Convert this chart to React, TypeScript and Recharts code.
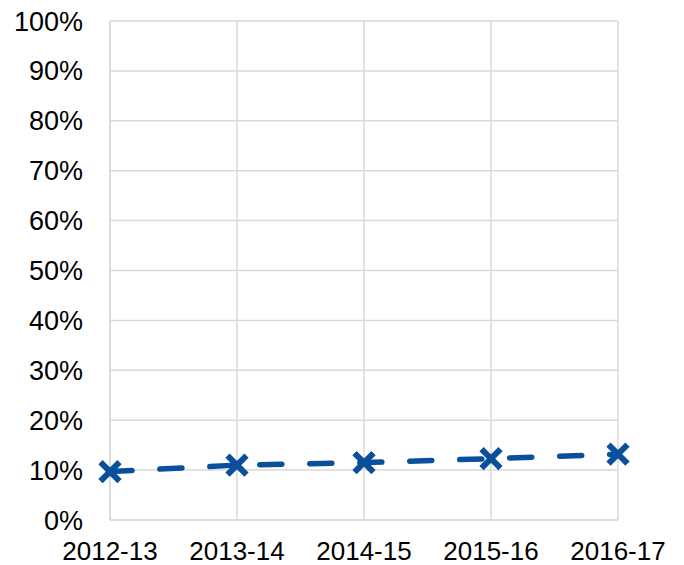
import { LineChart, Line, XAxis, YAxis, CartesianGrid } from 'recharts';

const years = ['2012-13', '2013-14', '2014-15', '2015-16', '2016-17'];
const shares = [9.7, 11.0, 11.5, 12.3, 13.2];
const yTicks = [0, 10, 20, 30, 40, 50, 60, 70, 80, 90, 100];

const BLUE = '#0a4f9b';
const GRID = '#d9d9d9';

const data = years.map((year, i) => ({ year, share: shares[i] }));

function CrossDot(props: any) {
  const { cx, cy } = props;
  if (cx == null || cy == null) return null;
  const r = 9.5;
  return (
    <g>
      <line x1={cx - r} y1={cy - r} x2={cx + r} y2={cy + r} stroke={BLUE} strokeWidth={6} />
      <line x1={cx - r} y1={cy + r} x2={cx + r} y2={cy - r} stroke={BLUE} strokeWidth={6} />
    </g>
  );
}

export default function App() {
  return (
    <div style={{ position: 'absolute', left: 0, top: 0, fontFamily: '"Liberation Sans", Arial, sans-serif' }}>
      <LineChart width={684} height={565} data={data} margin={{ top: 21, right: 66, bottom: 0, left: 0 }}>
        <CartesianGrid stroke={GRID} strokeWidth={1.5} />
        <XAxis
          dataKey="year"
          height={45}
          axisLine={{ stroke: GRID, strokeWidth: 1.5 }}
          tickLine={false}
          tickMargin={16}
          tick={{ fill: '#000', fontSize: 26 }}
          interval={0}
        />
        <YAxis
          width={110}
          domain={[0, 100]}
          ticks={yTicks}
          tickFormatter={(v: number) => `${v}%`}
          axisLine={{ stroke: GRID, strokeWidth: 1.5 }}
          tickLine={false}
          tickMargin={21}
          tick={{ fill: '#000', fontSize: 27 }}
        />
        <Line
          dataKey="share"
          stroke={BLUE}
          strokeWidth={5.5}
          strokeDasharray="22 28"
          strokeLinecap="round"
          dot={<CrossDot />}
          activeDot={false}
          isAnimationActive={false}
        />
      </LineChart>
    </div>
  );
}
